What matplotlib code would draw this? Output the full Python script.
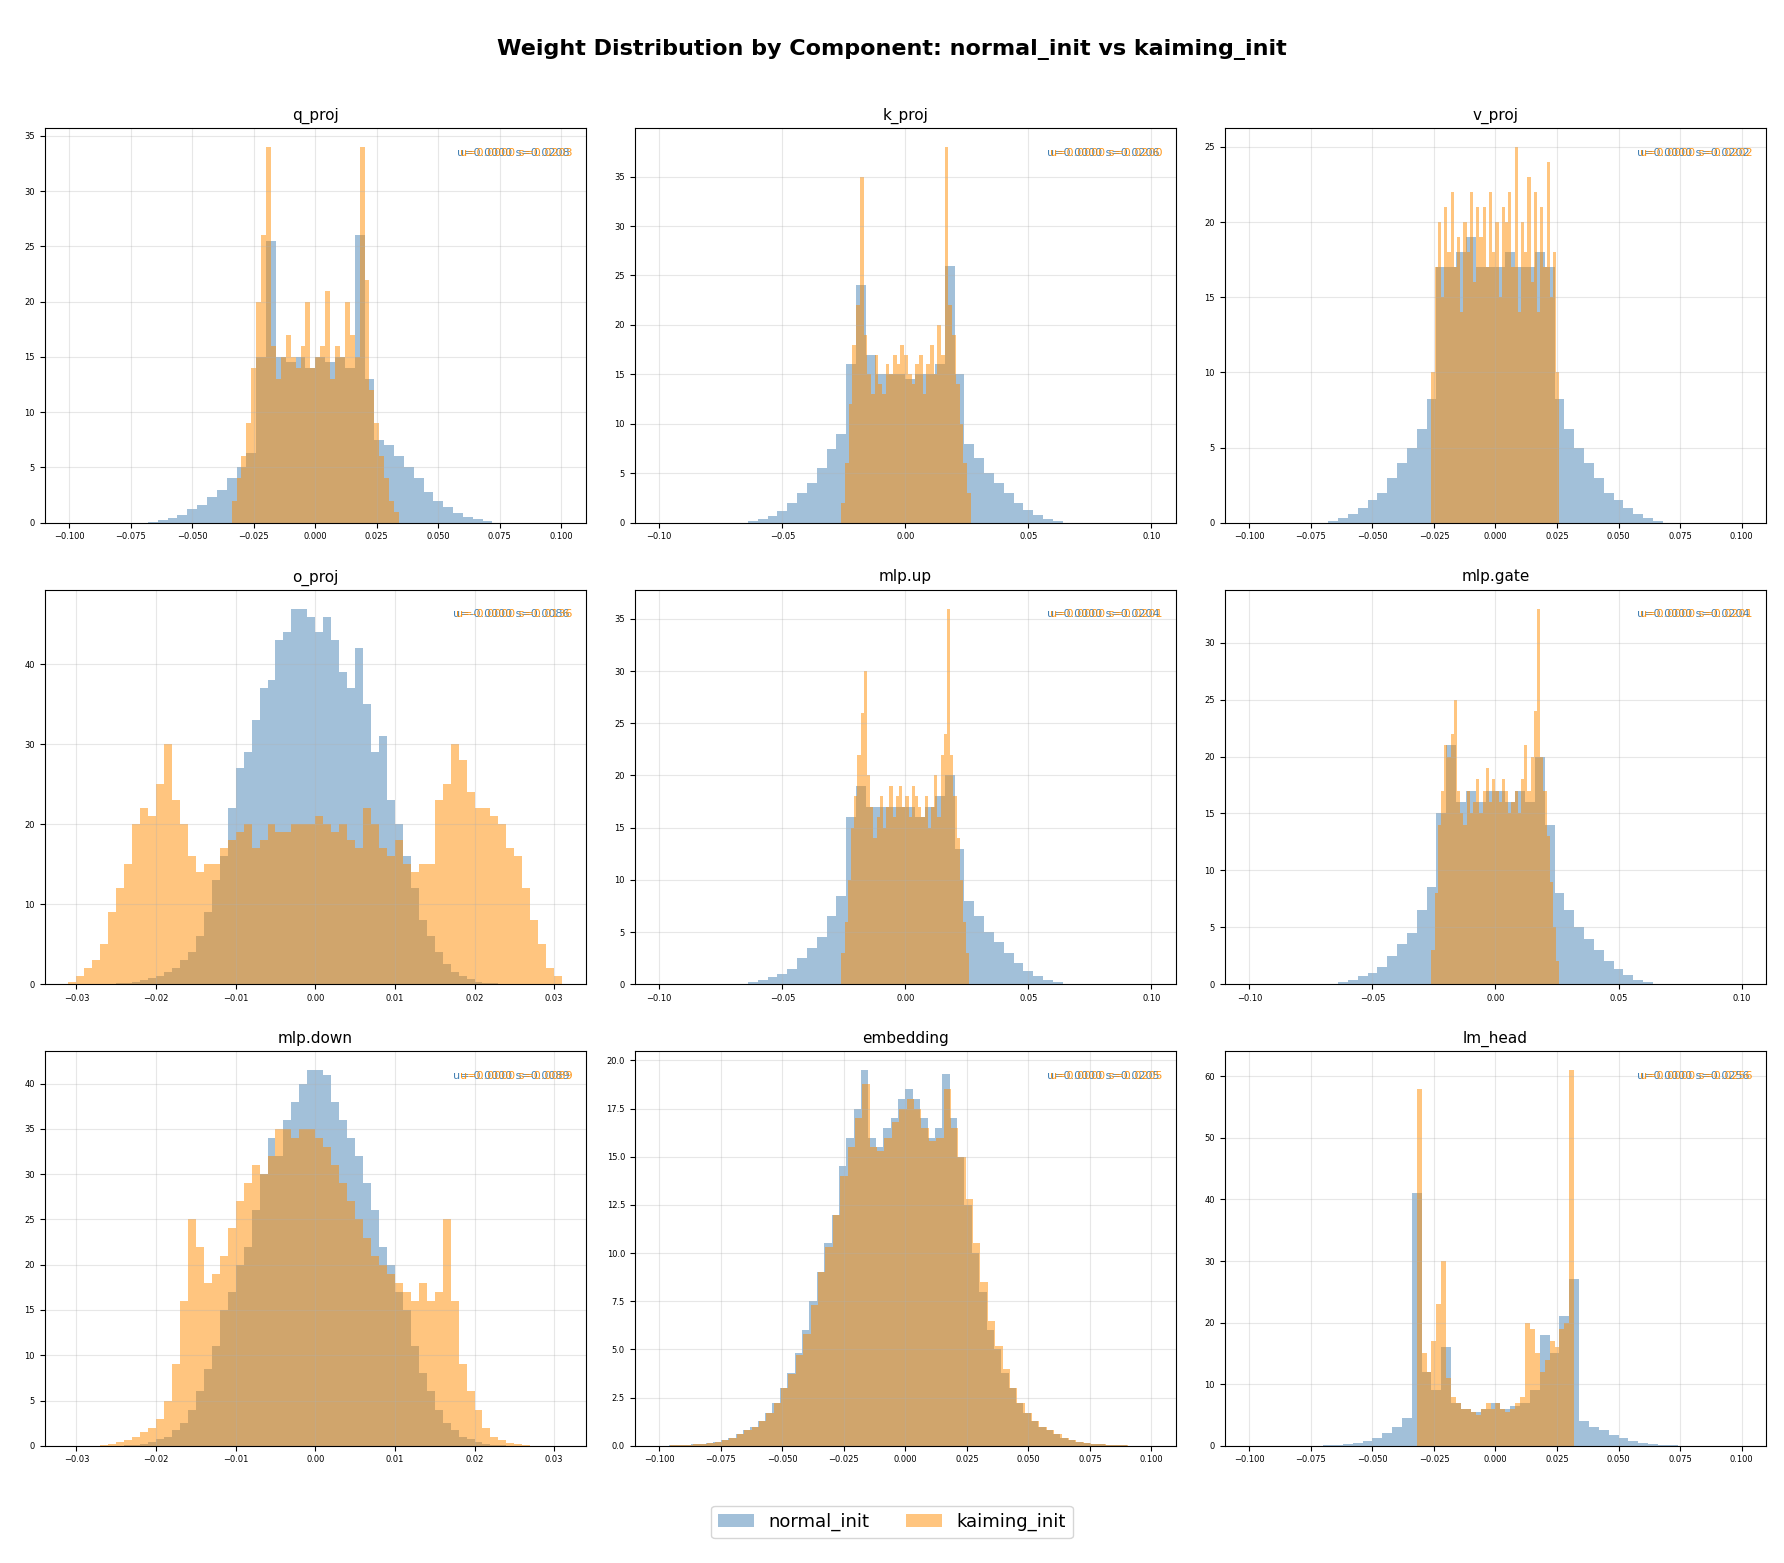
import numpy as np
import matplotlib.pyplot as plt

# component names, x-limits and stats text
components = ["q_proj", "k_proj", "v_proj", "o_proj", "mlp.up", "mlp.gate",
              "mlp.down", "embedding", "lm_head"]
normal_stats = ["u=0.0000 s=0.0208", "u=0.0000 s=0.0206", "u=0.0000 s=0.0202",
                "u=-0.0000 s=0.0086", "u=0.0000 s=0.0204", "u=0.0000 s=0.0204",
                "u=-0.0000 s=0.0089", "u=0.0000 s=0.0205", "u=0.0000 s=0.0256"]
kaiming_stats = ["u=0.0000 s=0.0203", "u=0.0000 s=0.0200", "u=0.0000 s=0.0202",
                 "u=-0.0000 s=0.0136", "u=0.0000 s=0.0201", "u=0.0000 s=0.0201",
                 "u=0.0000 s=0.0089", "u=0.0000 s=0.0205", "u=0.0000 s=0.0256"]

# histogram bins: (first edge, bin width), then bar heights
q_normal_bins = (-0.068, 0.004)
q_normal = [0.1, 0.2, 0.4, 0.7, 1.2, 1.6, 2.3, 3, 4, 5, 6.3,
            15, 25.5, 15, 14.5, 15, 14, 15, 14.5, 15, 14, 26, 13,
            7.5, 7, 6, 5, 4, 2.8, 2, 1.4, 0.9, 0.5, 0.3, 0.15]
q_kaiming_bins = (-0.034, 0.002)
q_kaiming = [2, 4, 6, 9, 14, 20, 26, 34, 16, 13, 15, 17, 15, 14, 16, 20, 14,
             15, 16, 21, 13, 16, 15, 20, 17, 15, 34, 22, 12, 9, 6, 4, 2, 1]

k_normal_bins = (-0.064, 0.004)
k_normal = [0.2, 0.4, 0.7, 1.2, 2, 3, 4, 5.5, 7.5,
            9, 16, 24, 17, 15, 15, 15, 14.5, 15, 15, 16, 26, 15, 8,
            6.5, 5, 4, 3, 2, 1.3, 0.8, 0.4, 0.2]
k_kaiming_bins = (-0.026, 0.0015)
k_kaiming = [2, 6, 12, 18, 22, 35, 19, 15, 13, 17, 14, 13, 16, 15, 17, 16, 18, 17,
             15, 14, 16, 17, 13, 16, 18, 15, 20, 17, 38, 22, 19, 14, 10, 6, 3]

v_normal_bins = (-0.068, 0.004)
v_normal = [0.1, 0.3, 0.6, 1, 1.5, 2, 3, 4, 5, 6.2, 8.2,
            17, 17, 18, 19, 17, 17, 17, 18, 17, 17, 18, 17,
            8.2, 6.2, 5, 4, 3, 2, 1.5, 1, 0.6, 0.3, 0.1]
v_kaiming_bins = (-0.026, 0.0013)
v_kaiming = [10, 17, 20, 15, 21, 18, 22, 17, 19, 14, 20, 18, 22, 16, 21, 19, 21, 17, 22, 18,
             20, 15, 21, 20, 22, 17, 25, 14, 20, 18, 23, 16, 22, 14, 21, 17, 24, 15, 18, 10]

o_normal_bins = (-0.025, 0.001)
o_normal = [0.1, 0.2, 0.3, 0.5, 0.8, 1, 1.5, 2, 3, 4, 6, 9, 13, 16, 22, 27, 29, 33, 37, 38,
            43, 44, 47, 47, 46, 44, 46, 43, 39, 37, 42, 35, 29, 31, 23, 20, 16, 12, 8, 6,
            4, 2.5, 1.5, 1, 0.6, 0.3, 0.2, 0.1, 0.05, 0.02]
o_kaiming_bins = (-0.031, 0.001)
o_kaiming = [0.3, 1, 2, 3, 5, 9, 12, 15, 20, 22, 21, 25, 30, 23, 20, 16,
             14, 15, 15, 17, 18, 19, 20, 17, 18, 20, 19, 19, 20, 20, 20, 21, 20, 19, 20, 18,
             17, 22, 20, 17, 16, 18, 15, 14, 15, 15,
             23, 25, 30, 28, 24, 22, 22, 21, 20, 17, 16, 12, 8, 5, 2, 1]

up_normal_bins = (-0.064, 0.004)
up_normal = [0.2, 0.4, 0.7, 1, 1.5, 2.5, 3.5, 4.5, 6.5, 8.5,
             16, 19, 17, 17, 17, 17, 17, 16, 17, 18, 20, 13,
             8, 6.5, 5, 4, 3, 2, 1.3, 0.8, 0.4, 0.2]
up_kaiming_bins = (-0.026, 0.0013)
up_kaiming = [3, 6, 10, 15, 18, 22, 26, 30, 20, 17, 14, 16, 18, 15, 17, 19, 16, 18, 19, 17,
              18, 16, 19, 18, 17, 16, 18, 15, 17, 20, 16, 22, 24, 36, 22, 18, 14, 10, 6, 3]

gate_normal_bins = (-0.064, 0.004)
gate_normal = [0.2, 0.4, 0.7, 1, 1.5, 2.5, 3.5, 4.5, 6.5, 8.5,
               15, 21, 16, 17, 16, 17, 17, 16, 17, 16, 20, 14,
               8, 6.5, 5, 4, 3, 2, 1.3, 0.8, 0.4, 0.2]
gate_kaiming_bins = (-0.026, 0.0013)
gate_kaiming = [3, 8, 14, 17, 21, 20, 22, 25, 17, 15, 14, 17, 15, 16, 18, 15, 17, 19, 16, 18,
                17, 16, 18, 17, 15, 16, 17, 15, 18, 21, 17, 20, 24, 33, 20, 17, 13, 9, 5, 2]

down_normal_bins = (-0.024, 0.001)
down_normal = [0.05, 0.1, 0.2, 0.4, 0.7, 1, 1.7, 2.5, 4, 6, 8.5, 11, 15, 17, 20, 22, 26, 30,
               34, 32, 36, 38, 40, 41.5, 41.5, 41, 38, 36, 34, 32, 29, 26, 22, 20, 17, 15,
               11, 8, 6, 4, 2.5, 1.7, 1, 0.7, 0.4, 0.2, 0.1, 0.05]
down_kaiming_bins = (-0.027, 0.001)
down_kaiming = [0.1, 0.2, 0.4, 0.6, 1, 1.5, 2, 3, 5, 9, 16, 25,
                22, 18, 19, 21, 24, 27, 29, 31, 30, 32, 35, 35, 34, 35, 35, 34, 33, 31, 29, 27,
                25, 23, 21, 20, 19, 18, 17, 16, 18, 16, 17, 25,
                16, 9, 6, 4, 2, 1, 0.6, 0.3, 0.15, 0.05]

emb_normal_bins = (-0.096, 0.003)
emb_normal = [0.02, 0.03, 0.05, 0.07, 0.1, 0.15, 0.2, 0.3, 0.4, 0.6, 0.8, 1, 1.3, 1.7, 2.2,
              3, 3.8, 4.8, 6, 7.5, 9, 10.5, 12, 14.5, 16, 17.5, 19.5,
              16, 15.5, 16.5, 17, 18, 18.5, 18, 17, 16, 16.5, 19.3,
              17, 15, 12.5, 10, 8, 6, 5, 3.8, 3, 2.2, 1.7, 1.3, 1, 0.8, 0.6, 0.4, 0.3, 0.2,
              0.15, 0.1, 0.07, 0.05, 0.03, 0.02, 0.01, 0.01]
emb_kaiming_bins = (-0.0955, 0.003)
emb_kaiming = [0.02, 0.03, 0.05, 0.07, 0.1, 0.15, 0.2, 0.3, 0.4, 0.6, 0.8, 1, 1.3, 1.7, 2.2,
               3, 3.7, 4.7, 5.8, 7.3, 9, 10.3, 12, 14, 15.5, 17, 18.8,
               15.5, 15.3, 16, 16.8, 17.5, 18, 17.5, 16.5, 15.8, 16, 18.5,
               16.5, 15, 12.8, 10.5, 8.5, 6.5, 5.2, 4, 3, 2.2, 1.7, 1.3, 1, 0.8, 0.6, 0.4, 0.3,
               0.2, 0.15, 0.1, 0.07, 0.05, 0.03, 0.02, 0.01, 0.01]

lm_normal_bins = (-0.07, 0.004)
lm_normal = [0.1, 0.2, 0.3, 0.5, 0.8, 1.2, 2, 3, 4.5, 41, 12, 9, 16, 7, 6, 5.5, 6, 7, 6, 6.5,
             7, 9, 18, 15, 21, 27, 4, 3, 2.5, 1.8, 1.2, 0.8, 0.5, 0.3, 0.2, 0.1]
lm_kaiming_bins = (-0.032, 0.002)
lm_kaiming = [58, 15, 12, 17, 23, 30, 11, 8, 7, 6, 6, 5.5, 5, 6, 7, 6, 7, 6, 5.5, 6, 7, 8,
              20, 19, 15, 12, 14, 17, 16, 19, 20, 61]

normal_series = [(q_normal_bins, q_normal), (k_normal_bins, k_normal), (v_normal_bins, v_normal),
                 (o_normal_bins, o_normal), (up_normal_bins, up_normal), (gate_normal_bins, gate_normal),
                 (down_normal_bins, down_normal), (emb_normal_bins, emb_normal), (lm_normal_bins, lm_normal)]
kaiming_series = [(q_kaiming_bins, q_kaiming), (k_kaiming_bins, k_kaiming), (v_kaiming_bins, v_kaiming),
                  (o_kaiming_bins, o_kaiming), (up_kaiming_bins, up_kaiming), (gate_kaiming_bins, gate_kaiming),
                  (down_kaiming_bins, down_kaiming), (emb_kaiming_bins, emb_kaiming), (lm_kaiming_bins, lm_kaiming)]

wide_ticks = [-0.1, -0.075, -0.05, -0.025, 0, 0.025, 0.05, 0.075, 0.1]
narrow_ticks = [-0.03, -0.02, -0.01, 0, 0.01, 0.02, 0.03]


def draw_hist(ax, bins, heights, color, label):
    start, width = bins
    edges = start + width * np.arange(len(heights) + 1)
    centers = (edges[:-1] + edges[1:]) / 2
    ax.hist(centers, bins=edges, weights=heights, color=color, alpha=0.5, label=label)


fig, axes = plt.subplots(3, 3, figsize=(17.84, 15.63), dpi=100)
for i, ax in enumerate(axes.flat):
    draw_hist(ax, *normal_series[i], "steelblue", "normal_init")
    draw_hist(ax, *kaiming_series[i], "darkorange", "kaiming_init")
    ax.set_title(components[i], fontsize=11)
    ax.grid(True, alpha=0.3)
    ax.tick_params(labelsize=6)
    if components[i] in ("o_proj", "mlp.down"):
        ax.set_xlim(-0.034, 0.034)
        ax.set_xticks(narrow_ticks)
    elif components[i] in ("k_proj", "mlp.up", "mlp.gate"):
        ax.set_xlim(-0.11, 0.11)
        ax.set_xticks([-0.1, -0.05, 0, 0.05, 0.1])
    else:
        ax.set_xlim(-0.11, 0.11)
        ax.set_xticks(wide_ticks)
    ax.text(0.97, 0.95, normal_stats[i], transform=ax.transAxes, ha="right", va="top",
            fontsize=8, color="steelblue")
    ax.text(0.975, 0.95, kaiming_stats[i], transform=ax.transAxes, ha="right", va="top",
            fontsize=8, color="darkorange", alpha=0.9)

handles, labels = axes[0, 0].get_legend_handles_labels()
fig.legend(handles, labels, loc="lower center", ncol=2, fontsize=13, bbox_to_anchor=(0.5, 0.01))
fig.suptitle("Weight Distribution by Component: normal_init vs kaiming_init",
             fontsize=16, fontweight="bold", y=0.975)
fig.subplots_adjust(left=0.025, right=0.99, top=0.918, bottom=0.075, wspace=0.09, hspace=0.17)
fig.savefig("out.png", dpi=100)
